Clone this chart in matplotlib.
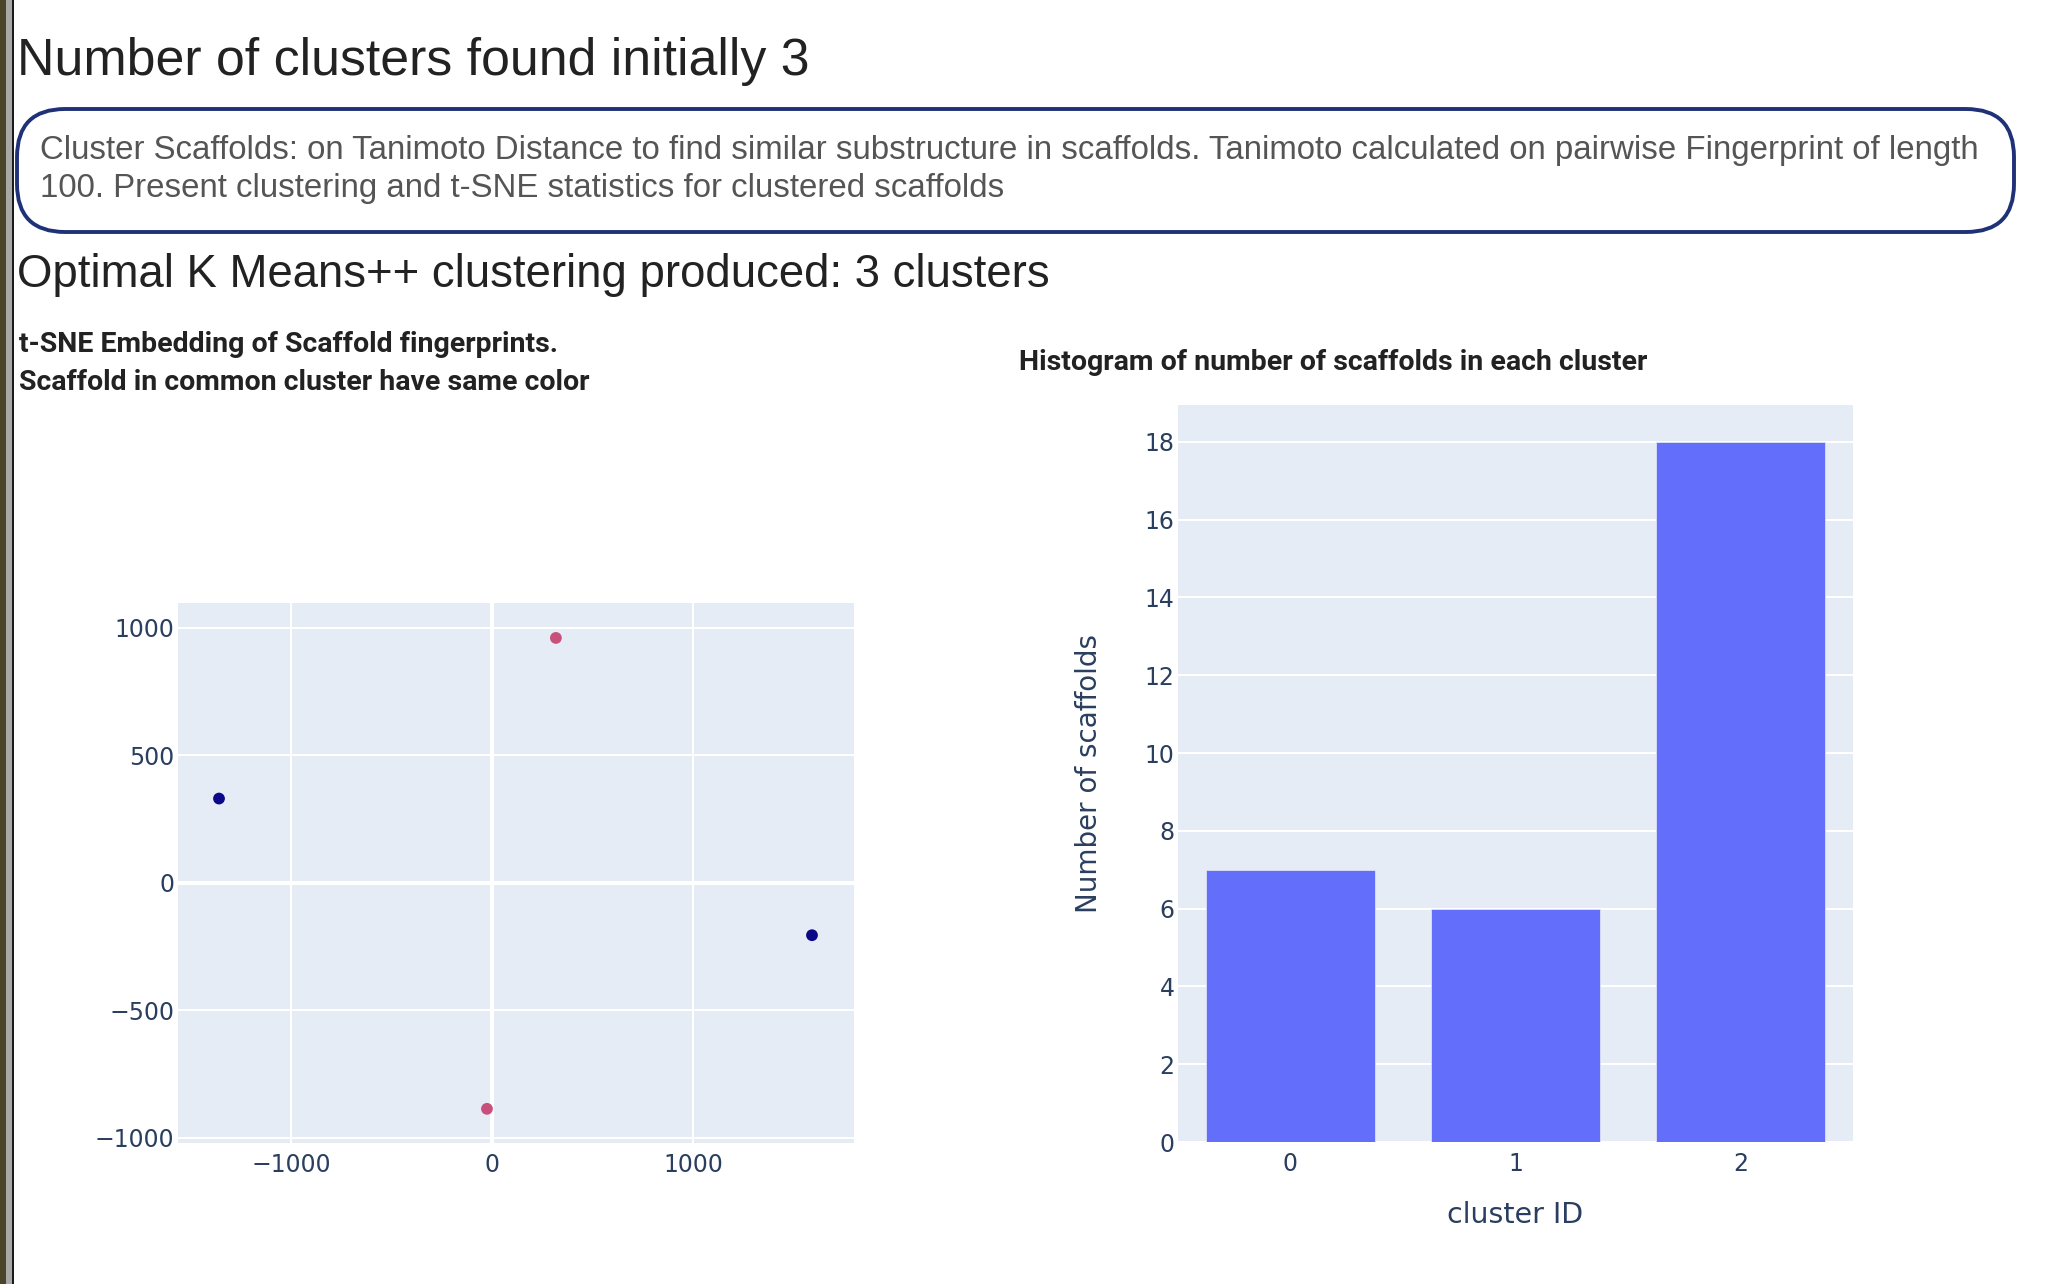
import numpy as np
import matplotlib
matplotlib.use("Agg")
import matplotlib.pyplot as plt
from matplotlib.patches import FancyBboxPatch, Rectangle

# --- data ---
tsne_x = [-1358, 1592, 318, -25]
tsne_y = [331, -205, 961, -886]
tsne_cluster = [0, 0, 1, 1]
cluster_colors = ["#0d0887", "#c9507a"]

cluster_ids = [0, 1, 2]
cluster_counts = [7, 6, 18]

scatter_xticks = [-1000, 0, 1000]
scatter_yticks = [-1000, -500, 0, 500, 1000]
bar_yticks = list(range(0, 19, 2))

W, H = 2054, 1284
BG = "#E5ECF6"
TICK = "#2a3f5f"

fig = plt.figure(figsize=(W / 100, H / 100), dpi=100)

# pixel overlay for page-like text and box
page = fig.add_axes([0, 0, 1, 1], zorder=0)
page.set_xlim(0, W)
page.set_ylim(H, 0)
page.axis("off")

# left window strip
page.add_patch(Rectangle((0, 0), 6, H, color="#4a4528", lw=0))
page.add_patch(Rectangle((6, 0), 6, H, color="#a8a8a8", lw=0))
page.add_patch(Rectangle((12, 0), 2, H, color="#1a1a1a", lw=0))

head_font = ["Liberation Sans", "DejaVu Sans"]
page.text(17, 75, "Number of clusters found initially 3", fontsize=37.4,
          family=head_font, color="#222222", va="baseline")

box = FancyBboxPatch((17, 109), 1997, 123,
                     boxstyle="round,pad=0,rounding_size=48",
                     fc="white", ec="#1f3277", lw=2.8)
page.add_patch(box)
page.text(40, 159, "Cluster Scaffolds: on Tanimoto Distance to find similar substructure in "
          "scaffolds. Tanimoto calculated on pairwise Fingerprint of length",
          fontsize=23.8, family=head_font, color="#555555", va="baseline")
page.text(40, 197, "100. Present clustering and t-SNE statistics for clustered scaffolds",
          fontsize=23.8, family=head_font, color="#555555", va="baseline")

page.text(17, 287, "Optimal K Means++ clustering produced: 3 clusters", fontsize=32.8,
          family=head_font, color="#222222", va="baseline")

sub_font = ["Roboto", "DejaVu Sans"]
page.text(19, 352, "t-SNE Embedding of Scaffold fingerprints.", fontsize=20.5,
          family=sub_font, weight="bold", color="#222222", va="baseline")
page.text(19, 390, "Scaffold in common cluster have same color", fontsize=20.5,
          family=sub_font, weight="bold", color="#222222", va="baseline")
page.text(1019, 370, "Histogram of number of scaffolds in each cluster", fontsize=20.5,
          family=sub_font, weight="bold", color="#222222", va="baseline")


def px_axes(left, top, right, bottom):
    return fig.add_axes([left / W, 1 - bottom / H, (right - left) / W, (bottom - top) / H],
                        zorder=1)


def style(ax):
    ax.set_facecolor(BG)
    for s in ax.spines.values():
        s.set_visible(False)
    ax.tick_params(length=0, labelsize=17, labelcolor=TICK)
    ax.tick_params(axis="x", pad=7)
    ax.tick_params(axis="y", pad=2.5)
    for lab in ax.get_xticklabels() + ax.get_yticklabels():
        lab.set_family("DejaVu Sans")


# ── scatter ─────────────────────────────────────────
ax1 = px_axes(178, 603, 854, 1143)
ax1.set_xlim(-1562, 1801)
ax1.set_ylim(-1020, 1098)
ax1.set_xticks(scatter_xticks)
ax1.set_yticks(scatter_yticks)
ax1.grid(True, color="white", lw=1.5, zorder=0)
ax1.set_axisbelow(True)
ax1.axhline(0, color="white", lw=2.9, zorder=1)
ax1.axvline(0, color="white", lw=2.9, zorder=1)
cols = [cluster_colors[c] for c in tsne_cluster]
ax1.scatter(tsne_x, tsne_y, s=72, c=cols, lw=0, zorder=3)
style(ax1)

# ── bar chart ───────────────────────────────────────
ax2 = px_axes(1178, 405, 1853, 1142)
ax2.bar(cluster_ids, cluster_counts, width=0.75, color="#636EFA",
        edgecolor=BG, lw=0.5, zorder=2)
ax2.set_xlim(-0.5, 2.5)
ax2.set_ylim(0, 18.947)
ax2.set_xticks(cluster_ids)
ax2.set_yticks(bar_yticks)
ax2.grid(True, axis="y", color="white", lw=1.5, zorder=0)
ax2.set_axisbelow(True)
style(ax2)
ax2.set_xlabel("cluster ID", fontsize=20.5, color=TICK, family="DejaVu Sans", labelpad=18)
ax2.set_ylabel("Number of scaffolds", fontsize=20, color=TICK, family="DejaVu Sans",
               labelpad=30)

fig.savefig("out.png", dpi=100, facecolor="white")
